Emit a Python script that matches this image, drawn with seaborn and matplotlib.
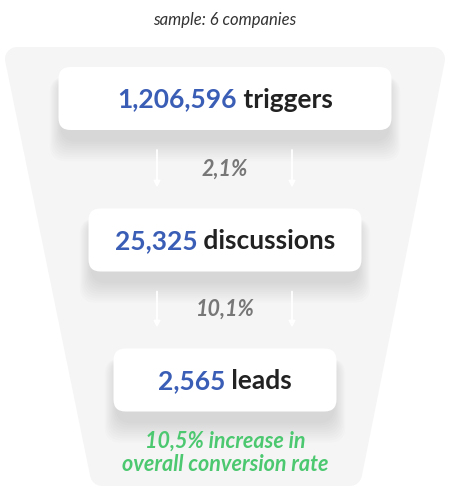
import matplotlib
matplotlib.use("Agg")
import matplotlib.pyplot as plt
import seaborn as sns
from matplotlib.patches import FancyBboxPatch, Polygon

# funnel data
stage_values = [1206596, 25325, 2565]
stage_labels = ["triggers", "discussions", "leads"]
step_rates = ["2,1%", "10,1%"]
sample_note = "sample: 6 companies"
result_note = "10,5% increase in\noverall conversion rate"

sns.set_theme(style="white")
plt.rcParams["font.family"] = ["Lato", "DejaVu Sans"]

BLUE = "#3a5db5"
DARK = "#222222"
GREEN = "#4cc870"
GREY = "#777777"

fig = plt.figure(figsize=(4.5, 5), dpi=100)
ax = fig.add_axes([0, 0, 1, 1])
ax.set_xlim(0, 450)
ax.set_ylim(500, 0)
ax.axis("off")

# funnel background (rounded corners via thick round-joined edge)
r = 12
funnel = Polygon([(5 + r, 47 + r), (445 - r, 47 + r), (362 - r, 486 - r), (90 + r, 486 - r)],
                 closed=True, facecolor="#f5f5f5", edgecolor="#f5f5f5",
                 linewidth=2 * r * 0.72, joinstyle="round", zorder=0)
ax.add_patch(funnel)

ax.text(225, 20, sample_note, ha="center", va="center", fontsize=12,
        style="italic", color="#333333")

box_w = [333, 273, 223]
box_cy = [98.5, 240, 380]
box_h = 63

renderer = fig.canvas.get_renderer()
inv = ax.transData.inverted()


def text_width(t):
    bb = t.get_window_extent(renderer=renderer)
    x0 = inv.transform((bb.x0, bb.y0))[0]
    x1 = inv.transform((bb.x1, bb.y0))[0]
    return x1 - x0


for i, (val, lab) in enumerate(zip(stage_values, stage_labels)):
    w = box_w[i]
    cy = box_cy[i]
    # soft shadow, mostly below the box
    for k in range(10):
        grow = 2 + k * 2.4
        sh = FancyBboxPatch((225 - w / 2 - grow / 2 + 3, cy - box_h / 2 + 10),
                            w + grow - 6, box_h + grow * 0.9,
                            boxstyle="round,pad=0,rounding_size=16",
                            facecolor="#000000", edgecolor="none",
                            alpha=0.012, zorder=1)
        ax.add_patch(sh)
    box = FancyBboxPatch((225 - w / 2, cy - box_h / 2), w, box_h,
                         boxstyle="round,pad=0,rounding_size=12",
                         facecolor="white", edgecolor="none", zorder=2)
    ax.add_patch(box)

    t1 = ax.text(0, cy + 1, f"{val:,}", ha="left", va="center", fontsize=19,
                 fontweight="bold", color=BLUE, zorder=3)
    t2 = ax.text(0, cy + 1, " " + lab, ha="left", va="center", fontsize=19,
                 fontweight="bold", color=DARK, zorder=3)
    w1 = text_width(t1)
    w2 = text_width(t2)
    x0 = 225 - (w1 + w2) / 2
    t1.set_x(x0)
    t2.set_x(x0 + w1)

# arrows and step rates
for j, rate in enumerate(step_rates):
    top = box_cy[j] + box_h / 2 + 20
    bot = box_cy[j + 1] - box_h / 2 - 21
    for ax_x in (157, 292):
        ax.annotate("", xy=(ax_x, bot), xytext=(ax_x, top),
                    arrowprops=dict(arrowstyle="-|>", color="white", lw=1.3,
                                    mutation_scale=9, shrinkA=0, shrinkB=0),
                    zorder=3)
    ax.text(225, (top + bot) / 2, rate, ha="center", va="center", fontsize=15.5,
            fontweight="bold", style="italic", color=GREY, zorder=3)

ax.text(225, 453, result_note, ha="center", va="center", fontsize=15.5,
        fontweight="bold", style="italic", color=GREEN, linespacing=1.15,
        zorder=3)

fig.savefig("out.png", dpi=100, facecolor="white")
